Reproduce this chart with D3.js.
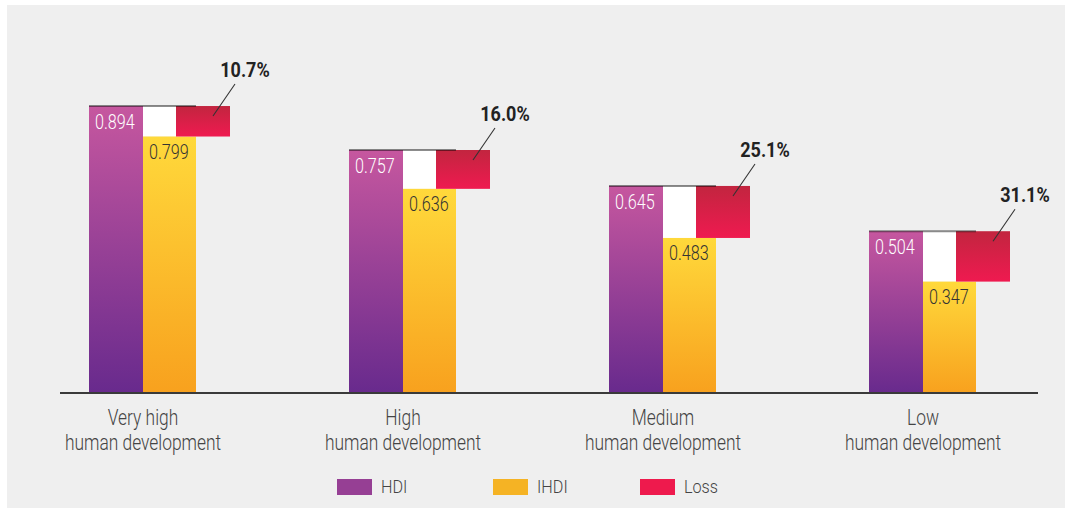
<!DOCTYPE html>
<html>
<head>
<meta charset="utf-8">
<script src="https://cdn.jsdelivr.net/npm/d3@7"></script>
<style>
  html, body { margin: 0; padding: 0; background: #ffffff; }
  svg { display: block; }
</style>
</head>
<body>
<svg id="chart" width="1065" height="508"></svg>
<script>
// ---- data ----
const categories = ["Very high|human development", "High|human development", "Medium|human development", "Low|human development"];
const hdiValues  = [0.894, 0.757, 0.645, 0.504];
const ihdiValues = [0.799, 0.636, 0.483, 0.347];
const lossValues = [10.7, 16.0, 25.1, 31.1];
const seriesNames = ["HDI", "IHDI", "Loss"];

// ---- layout ----
const W = 1065, H = 508;
const svg = d3.select("#chart");
const FONT = "Roboto, 'Liberation Sans', Arial, sans-serif";

svg.append("rect").attr("x", 7).attr("y", 5).attr("width", W - 7).attr("height", H - 5).attr("fill", "#efefef");

const x = d3.scaleBand().domain(categories).range([89, 89 + 260 * categories.length]).padding(0);
const y = d3.scaleLinear().domain([0, 1]).range([393, 72]);
const barW = 54;
const lossOffset = 87;

const defs = svg.append("defs");
function grad(id, top, bottom) {
  const g = defs.append("linearGradient").attr("id", id).attr("x1", 0).attr("y1", 0).attr("x2", 0).attr("y2", 1);
  g.append("stop").attr("offset", "0%").attr("stop-color", top);
  g.append("stop").attr("offset", "100%").attr("stop-color", bottom);
}
grad("gHDI", "#c6579f", "#682a8d");
grad("gIHDI", "#ffd93b", "#f8a11e");
grad("gLoss", "#c2253f", "#ef1a50");

function label(g, tx, ty, text, opts) {
  const t = g.append("text")
    .attr("transform", `translate(${tx},${ty}) scale(${opts.sx},1)`)
    .attr("font-family", FONT)
    .attr("font-size", opts.size)
    .attr("font-weight", opts.weight || 300)
    .attr("fill", opts.fill)
    .attr("text-anchor", opts.anchor || "start")
    .text(text);
  return t;
}

const data = categories.map((c, i) => ({ c, hdi: hdiValues[i], ihdi: ihdiValues[i], loss: lossValues[i] }));
const groups = svg.selectAll("g.grp").data(data).enter().append("g").attr("class", "grp");

groups.each(function (d) {
  const g = d3.select(this);
  const x0 = x(d.c);
  // HDI bar
  g.append("rect").attr("x", x0).attr("y", y(d.hdi)).attr("width", barW).attr("height", y(0) - y(d.hdi)).attr("fill", "url(#gHDI)");
  // white gap above IHDI
  g.append("rect").attr("x", x0 + barW).attr("y", y(d.hdi)).attr("width", barW - 1).attr("height", y(d.ihdi) - y(d.hdi)).attr("fill", "#ffffff");
  // IHDI bar
  g.append("rect").attr("x", x0 + barW).attr("y", y(d.ihdi)).attr("width", barW - 1).attr("height", y(0) - y(d.ihdi)).attr("fill", "url(#gIHDI)");
  // Loss bar
  g.append("rect").attr("x", x0 + lossOffset).attr("y", y(d.hdi)).attr("width", barW).attr("height", y(d.ihdi) - y(d.hdi)).attr("fill", "url(#gLoss)");
  // top reference line
  g.append("line").attr("x1", x0).attr("x2", x0 + 2 * barW - 1).attr("y1", y(d.hdi)).attr("y2", y(d.hdi))
    .attr("stroke", "#000").attr("stroke-opacity", 0.45).attr("stroke-width", 2);
  // value labels
  label(g, x0 + 6, y(d.hdi) + 23, d3.format(".3f")(d.hdi), { size: 21, sx: 0.77, fill: "#ffffff" });
  label(g, x0 + barW + 6, y(d.ihdi) + 22, d3.format(".3f")(d.ihdi), { size: 21, sx: 0.77, fill: "#333333" });
  // loss label + leader
  const lr = x0 + lossOffset + barW;
  g.append("line").attr("x1", lr + 5).attr("y1", y(d.hdi) - 22).attr("x2", lr - 17).attr("y2", y(d.hdi) + 10)
    .attr("stroke", "#333").attr("stroke-width", 1.1);
  label(g, lr + 15, y(d.hdi) - 29, d3.format(".1f")(d.loss) + "%", { size: 20, sx: 0.9, fill: "#222222", weight: "bold", anchor: "middle" });
  // category labels
  const lines = d.c.split("|");
  lines.forEach((ln, k) => {
    label(g, x0 + barW, 425 + k * 25, ln, { size: 22, sx: 0.79, fill: "#444444", anchor: "middle" });
  });
});

// baseline
svg.append("line").attr("x1", 60).attr("x2", 1038).attr("y1", y(0)).attr("y2", y(0)).attr("stroke", "#3a3a3a").attr("stroke-width", 2);

// legend
const legendColors = ["#963f94", "#f5b324", "#ee1a4d"];
const legendX = [337, 493, 640];
const lg = svg.selectAll("g.leg").data(seriesNames).enter().append("g").attr("class", "leg");
lg.each(function (name, i) {
  const g = d3.select(this);
  g.append("rect").attr("x", legendX[i]).attr("y", 479).attr("width", 35).attr("height", 16).attr("fill", legendColors[i]);
  label(g, legendX[i] + 44, 493, name, { size: 18, sx: 0.9, fill: "#444444" });
});
</script>
</body>
</html>
